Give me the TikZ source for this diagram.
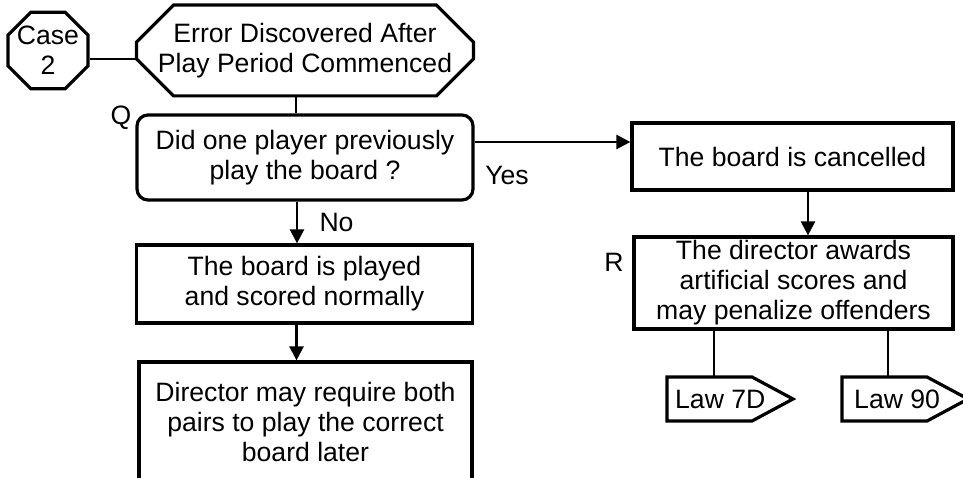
\documentclass[tikz,border=0pt]{standalone}
\usepackage{fontspec}
\setmainfont{Liberation Sans}
\usepackage{tikz}
\usetikzlibrary{calc}
\usetikzlibrary{shapes.misc}
\usetikzlibrary{arrows.meta}
\begin{document}
\begin{tikzpicture}[x=1pt, y=-1pt,
    font=\fontsize{26.6}{30}\selectfont,
    box/.style={draw, line width=3.2pt, inner sep=0pt, align=center},
    cutbox/.style={box, chamfered rectangle},
    lawline/.style={line width=3.2pt, line join=miter},
    link/.style={line width=2.4pt},
    flow/.style={link, -{Triangle[length=14pt, width=14pt]}}]
  \useasboundingbox (0,0) rectangle (963,478);
  \node[cutbox, chamfered rectangle xsep=9pt, chamfered rectangle ysep=14pt,
        minimum width=80pt, minimum height=75pt] (case) at (48,50.5) {Case\\2};
  \node[cutbox, chamfered rectangle xsep=19pt, chamfered rectangle ysep=18pt,
        minimum width=337pt, minimum height=77pt] (err) at (305,50.5)
        {Error Discovered After\\Play Period Commenced};
  \node[box, rounded corners=11pt, minimum width=336pt, minimum height=85pt]
        (q) at (305,157.5) {Did one player previously\\play the board ?};
  \node (qlabel) at (121,118) {Q};
  \node[box, minimum width=321pt, minimum height=67pt] (cancel) at (792.5,156.5)
        {The board is cancelled};
  \node[box, minimum width=336pt, minimum height=78pt] (played) at (304.5,284)
        {The board is played\\and scored normally};
  \node[box, minimum width=333pt, minimum height=120pt] (dir) at (305.5,422)
        {Director may require both\\pairs to play the correct\\board later};
  \node[box, minimum width=319pt, minimum height=92pt] (award) at (793.5,283)
        {The director awards\\artificial scores and\\may penalize offenders};
  \node (rlabel) at (614,262) {R};

  \draw[lawline] (667,377) -- (752,377) -- (793,399) -- (752,421) -- (667,421) -- cycle;
  \node[anchor=west, inner sep=0pt] (law7d) at (675,399) {Law 7D};
  \coordinate (law7dtop) at (714,377);
  \draw[lawline] (842,377) -- (927,377) -- (968,399) -- (927,421) -- (842,421) -- cycle;
  \node[anchor=west, inner sep=0pt] (law90) at (854,399) {Law 90};
  \coordinate (law90top) at (888,377);

  \draw[link] ([yshift=-8.5pt]case.east) -- ([yshift=-8.5pt]case.east -| err.west);
  \draw[link] ([xshift=-9pt]err.south) -- ([xshift=-9pt]err.south |- q.north);
  \draw[flow] ([xshift=-8pt]q.south) -- ([xshift=-8pt]q.south |- played.north)
        node[pos=0.5, right=18pt] (nolabel) {No};
  \draw[flow] ([xshift=-8pt]played.south) -- ([xshift=-8pt]played.south |- dir.north);
  \draw[flow] ([yshift=15.5pt]q.east) -- ([yshift=15.5pt]q.east -| cancel.west);
  \node (yeslabel) at (507,175) {Yes};
  \draw[flow] ([xshift=15.5pt]cancel.south) -- ([xshift=15.5pt]cancel.south |- award.north);
  \draw[link] (award.south -| law7dtop) -- (law7dtop);
  \draw[link] (award.south -| law90top) -- (law90top);
\end{tikzpicture}
\end{document}
